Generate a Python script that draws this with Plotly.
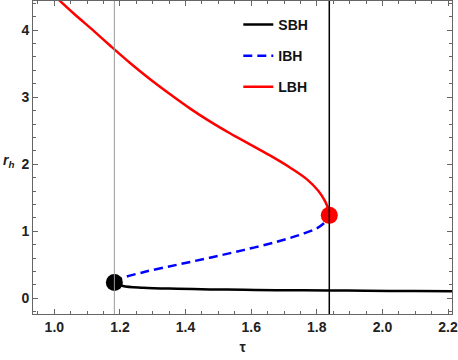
import plotly.graph_objects as go

# critical temperatures (vertical lines)
tau_c1 = 1.183
tau_c2 = 1.838

# small black hole branch
sbh_tau = [1.183, 1.209, 1.271, 1.374, 1.474, 1.578, 1.678, 1.835, 1.95, 2.10, 2.212]
sbh_rh = [0.238, 0.185, 0.158, 0.143, 0.134, 0.128, 0.123, 0.119, 0.114, 0.109, 0.105]

# intermediate black hole branch
ibh_tau = [1.183, 1.200, 1.271, 1.373, 1.474, 1.576, 1.678, 1.759, 1.800, 1.820, 1.835, 1.838]
ibh_rh = [0.238, 0.290, 0.390, 0.500, 0.607, 0.720, 0.843, 0.966, 1.045, 1.114, 1.19, 1.238]

# large black hole branch
lbh_tau = [1.012, 1.060, 1.120, 1.169, 1.230, 1.291, 1.352, 1.413, 1.474, 1.535, 1.596,
           1.657, 1.718, 1.770, 1.805, 1.825, 1.835, 1.838]
lbh_rh = [4.46, 4.245, 3.99, 3.775, 3.515, 3.272, 3.048, 2.834, 2.639, 2.462, 2.297,
          2.132, 1.952, 1.775, 1.600, 1.450, 1.330, 1.238]

# critical points
pt_tau = [1.183, 1.838]
pt_rh = [0.238, 1.238]
pt_colors = ["black", "red"]

FONT = "Liberation Sans, Arial"
font_b = dict(family=FONT, size=14, color="#222", weight="bold")

fig = go.Figure()

fig.add_vline(x=tau_c1, line=dict(color="#999", width=1))
fig.add_vline(x=tau_c2, line=dict(color="black", width=1.5))

fig.add_trace(go.Scatter(x=sbh_tau, y=sbh_rh, mode="lines", name="SBH",
                         line=dict(color="black", width=2.5, shape="spline"),
                         legendgroup="a"))
fig.add_trace(go.Scatter(x=ibh_tau, y=ibh_rh, mode="lines", name="IBH",
                         line=dict(color="blue", width=2.5, dash="9px,5px", shape="spline"),
                         legendgroup="b"))
fig.add_trace(go.Scatter(x=lbh_tau, y=lbh_rh, mode="lines", name="LBH",
                         line=dict(color="red", width=2.5, shape="spline"),
                         legendgroup="c"))
fig.add_trace(go.Scatter(x=pt_tau, y=pt_rh, mode="markers", showlegend=False,
                         marker=dict(color=pt_colors, size=17)))

axis_common = dict(
    showline=True, linecolor="#666", linewidth=1, mirror="ticks",
    ticks="inside", ticklen=5, tickcolor="#666",
    showgrid=False, zeroline=False, tickfont=font_b, automargin=False,
    ticklabeloverflow="allow",
)

fig.update_xaxes(range=[0.935, 2.212], dtick=0.2, tickformat=".1f",
                 minor=dict(dtick=0.05, ticks="inside", ticklen=3, tickcolor="#666"),
                 title=dict(text="τ", font=dict(family=FONT, size=14, color="#222", weight="bold"),
                            standoff=8),
                 **axis_common)
fig.update_yaxes(range=[-0.233, 4.435], dtick=1,
                 minor=dict(dtick=0.2, ticks="inside", ticklen=3, tickcolor="#666"),
                 **axis_common)

fig.add_annotation(text="<i>r<sub>h</sub></i>", xref="paper", yref="paper",
                   x=-0.077, y=0.49, xanchor="left", showarrow=False,
                   font=dict(family=FONT, size=14, color="#222", weight="bold"))

fig.update_layout(
    width=458, height=360,
    margin=dict(l=33, r=6, t=1, b=46),
    plot_bgcolor="white", paper_bgcolor="white",
    legend=dict(x=0.49, y=0.975, xanchor="left", yanchor="top",
                bgcolor="rgba(0,0,0,0)", traceorder="grouped", tracegroupgap=10,
                font=dict(family=FONT, size=14, color="#111", weight="bold")),
)

# page body has a default margin; drop it so the figure fills the window
fig.write_html("out.html", config={"displayModeBar": False},
               post_script="document.body.style.margin='0';")
